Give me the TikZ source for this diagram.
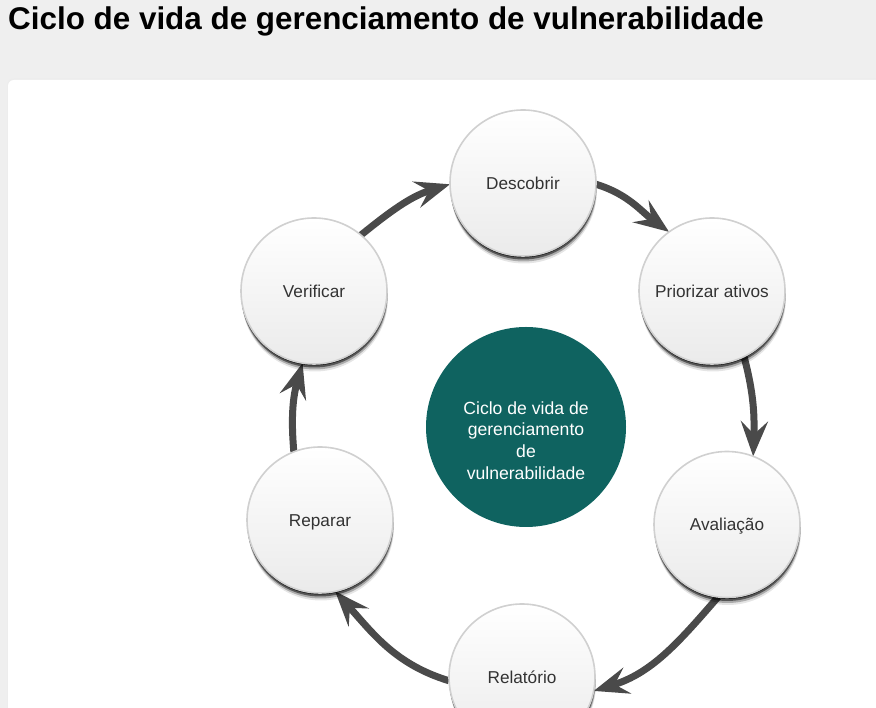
\documentclass[tikz,border=0pt]{standalone}
\usepackage{fontspec}
\setmainfont{Liberation Sans}
\usetikzlibrary{arrows.meta,shadows}
\definecolor{pagebg}{HTML}{EFEFEF}
\definecolor{cteal}{HTML}{0F6360}
\definecolor{arrowgray}{HTML}{4A4A4A}
\definecolor{ringgray}{HTML}{D0D0D0}
\definecolor{labelgray}{HTML}{333333}
\pgfdeclarelayer{behind}
\pgfsetlayers{behind,main}
\begin{document}
\begin{tikzpicture}[x=1pt,y=1pt,
  stage/.style={circle, minimum size=146pt, inner sep=0pt, outer sep=0pt,
    draw=ringgray, line width=1.6pt, top color=white, bottom color=black!8,
    font=\fontsize{17.2}{20}\selectfont, text=labelgray,
    text height=12.3pt, text depth=0pt,
    drop shadow={shadow xshift=0pt, shadow yshift=-1.5pt, opacity=0.75, fill=black},
    drop shadow={shadow xshift=0.3pt, shadow yshift=-3.5pt, opacity=0.5, fill=black},
    drop shadow={shadow xshift=0.6pt, shadow yshift=-5.5pt, opacity=0.25, fill=black},
    drop shadow={shadow xshift=0.9pt, shadow yshift=-7.5pt, opacity=0.1, fill=black}},
  hub/.style={circle, minimum size=200pt, inner sep=0pt, outer sep=0pt, fill=cteal},
  hubtext/.style={align=center, text=white, font=\fontsize{17.6}{21.7}\selectfont},
  cyc/.style={line width=7pt, draw=arrowgray,
    -{Stealth[length=35pt,width=27pt,inset=13pt,fill=arrowgray]}},
  headline/.style={font=\fontsize{31.4}{36}\selectfont\bfseries, text=black, inner sep=0pt, anchor=base west}
]
\useasboundingbox (0,0) rectangle (876,708);
\clip (0,0) rectangle (876,708);

\node[headline] (title) at (8,678) {Ciclo de vida de gerenciamento de vulnerabilidade};

\node[stage] (desc) at (523,525) {Descobrir};
\node[stage] (prio) at (712,417) {Priorizar ativos};
\node[stage] (aval) at (727,183.5) {Avaliação};
\node[stage] (rel) at (522,31) {Relatório};
\node[stage] (rep) at (320,188) {Reparar};
\node[stage] (verif) at (314,417) {Verificar};

\node[hub] (hub) at (526,281) {};
\node[hubtext] (hubtext) at (526,267.5) {Ciclo de vida de\\gerenciamento\\de\\vulnerabilidade};

\begin{pgfonlayer}{behind}
  \fill[pagebg] (0,0) rectangle (876,708);
  \fill[black!7, rounded corners=7pt] (7,-20) rectangle (900,629.5);
  \fill[white, rounded corners=6pt] (8,-20) rectangle (900,628);
  \draw[cyc] (verif.50) to[out=39, in=197] (desc.181);
  \draw[cyc] (desc.359) to[out=-17, in=144] (prio.126);
  \draw[cyc] (prio.-64) to[out=-75, in=88] (aval.69);
  \draw[cyc] (aval.-97) to[out=-131, in=17] (rel.-11);
  \draw[cyc] (rel.183) to[out=163, in=-48] (rep.-78);
  \draw[cyc] (rep.111) to[out=95, in=254] (verif.-99);
\end{pgfonlayer}
\end{tikzpicture}
\end{document}
